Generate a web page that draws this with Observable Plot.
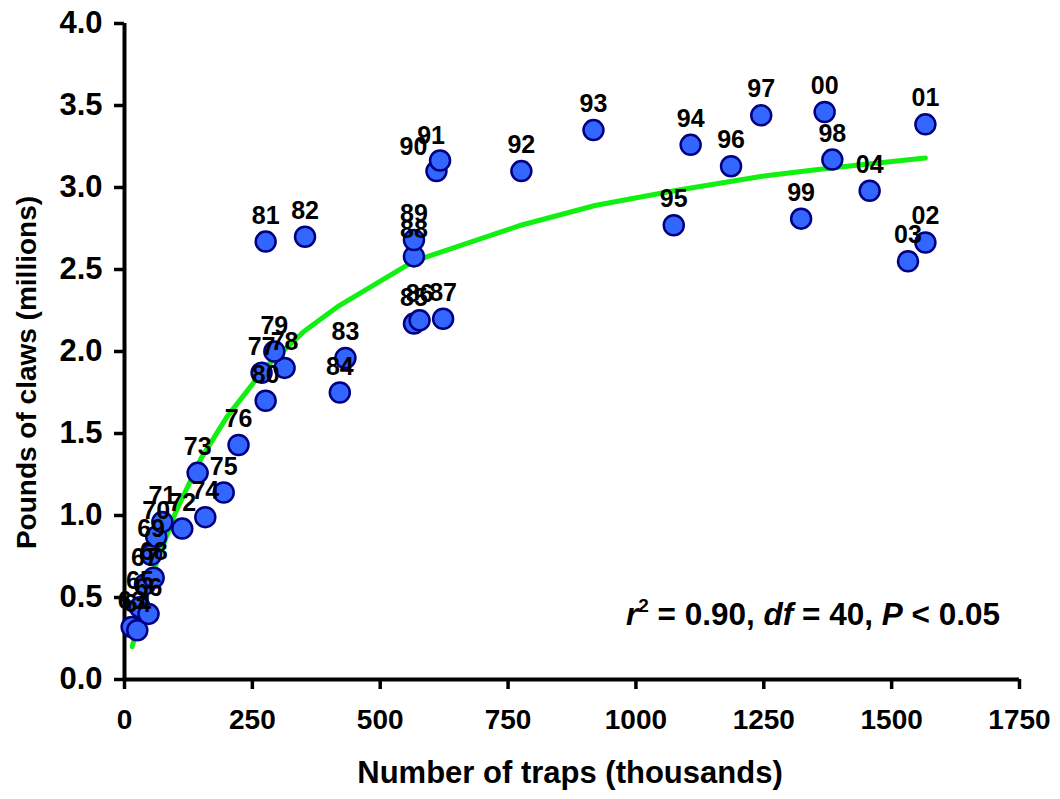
<!DOCTYPE html>
<html>
<head>
<meta charset="utf-8">
<script src="https://cdn.jsdelivr.net/npm/d3@7"></script>
<script src="https://cdn.jsdelivr.net/npm/@observablehq/plot@0.6"></script>
<style>
  html, body { margin: 0; padding: 0; background: #fff; }
  #chart { width: 1060px; height: 799px; }
</style>
</head>
<body>
<div id="chart"></div>
<script>
// Season labels (two-digit years) with traps fished and claw landings
const years = ["63","64","65","66","67","68","69","70","71","72","73","74","75","76","77","78","79","80","81","82","83","84","85","86","87","88","89","90","91","92","93","94","95","96","97","98","99","00","01","02","03","04"];
const traps = [14, 25, 30, 47, 40, 57, 52, 62, 74, 113, 143, 158, 194, 223, 268, 313, 293, 276, 276, 353, 432, 421, 566, 577, 623, 566, 566, 610, 617, 776, 917, 1107, 1074, 1186, 1245, 1384, 1323, 1369, 1566, 1566, 1532, 1457];
const claws = [0.32, 0.30, 0.44, 0.40, 0.58, 0.62, 0.76, 0.87, 0.96, 0.92, 1.26, 0.99, 1.14, 1.43, 1.87, 1.90, 2.00, 1.70, 2.67, 2.70, 1.96, 1.75, 2.17, 2.19, 2.20, 2.58, 2.68, 3.10, 3.165, 3.10, 3.35, 3.26, 2.77, 3.13, 3.44, 3.17, 2.81, 3.46, 3.385, 2.665, 2.55, 2.98];

// Fitted curve, read along its length
const fitTraps = [15, 30, 60, 100, 150, 200, 275, 350, 420, 565, 775, 920, 1075, 1250, 1385, 1566];
const fitClaws = [0.20, 0.38, 0.69, 1.02, 1.35, 1.60, 1.90, 2.12, 2.28, 2.55, 2.77, 2.89, 2.98, 3.07, 3.12, 3.18];

const xTicks = [0, 250, 500, 750, 1000, 1250, 1500, 1750];
const yTicks = [0, 0.5, 1.0, 1.5, 2.0, 2.5, 3.0, 3.5, 4.0];

const xTitle = "Number of traps (thousands)";
const yTitle = "Pounds of claws (millions)";

const points = years.map((year, i) => ({year, traps: traps[i], claws: claws[i]}));
const fit = fitTraps.map((t, i) => ({traps: t, claws: fitClaws[i]}));

const font = "'Liberation Sans', Arial, Helvetica, sans-serif";
// labels that sit left of their point instead of straight above
const labelNudge = {"90": -23, "91": -9};

const W = 1060, H = 799;
const M = {left: 124, right: 41, top: 23, bottom: 120};

const labelMarks = [
  Plot.text(points.filter(d => !(d.year in labelNudge)), {
    x: "traps", y: "claws", text: "year", dy: -26,
    fontSize: 25, fontWeight: "bold", fill: "#000"
  }),
  ...Object.entries(labelNudge).map(([yr, dx]) =>
    Plot.text(points.filter(d => d.year === yr), {
      x: "traps", y: "claws", text: "year", dy: -24, dx,
      fontSize: 25, fontWeight: "bold", fill: "#000"
    }))
];

const chart = Plot.plot({
  width: W, height: H,
  marginLeft: M.left, marginRight: M.right, marginTop: M.top, marginBottom: M.bottom,
  style: {fontFamily: font, fontWeight: "bold", fontSize: "28px", color: "#000", background: "#fff", overflow: "visible"},
  x: {domain: [0, 1750], label: null},
  y: {domain: [0, 4], label: null},
  marks: [
    Plot.axisX({ticks: xTicks, tickSize: 10, tickPadding: 20, tickFormat: d3.format("d"),
      strokeWidth: 3.5, fontSize: 28, fontWeight: "bold", label: null}),
    Plot.axisY({ticks: yTicks, tickSize: 10, tickPadding: 12, tickFormat: d3.format(".1f"),
      strokeWidth: 3.5, fontSize: 31, fontWeight: "bold", label: null}),
    Plot.ruleX([0], {stroke: "#000", strokeWidth: 4}),
    Plot.ruleY([0], {stroke: "#000", strokeWidth: 4}),
    Plot.line(fit, {x: "traps", y: "claws", stroke: "#11f011", strokeWidth: 5}),
    Plot.dot(points, {x: "traps", y: "claws", r: 10, fill: "#3366ff", stroke: "#000080", strokeWidth: 2.5}),
    ...labelMarks,
    Plot.text([yTitle], {frameAnchor: "left", dx: -97, dy: 21, rotate: -90,
      textAnchor: "middle", lineAnchor: "middle", fontSize: 28, fontWeight: "bold"}),
    Plot.text([xTitle], {frameAnchor: "bottom", dx: -2, dy: 94,
      textAnchor: "middle", lineAnchor: "middle", fontSize: 31, fontWeight: "bold"})
  ]
});

// Goodness-of-fit note with italic symbols and a superscript
const note = d3.select(chart).append("text")
  .attr("x", W - M.right - 19)
  .attr("y", H - M.bottom - 54)
  .attr("text-anchor", "end")
  .attr("font-family", font)
  .attr("font-weight", "bold")
  .attr("font-size", 31.5)
  .attr("fill", "#000");
note.append("tspan").attr("font-style", "italic").text("r");
note.append("tspan").attr("font-size", 19).attr("dy", -13).text("2");
note.append("tspan").attr("dy", 13).text(" = 0.90, ");
note.append("tspan").attr("font-style", "italic").text("df");
note.append("tspan").text(" = 40, ");
note.append("tspan").attr("font-style", "italic").text("P");
note.append("tspan").text(" < 0.05");

document.getElementById("chart").append(chart);
</script>
</body>
</html>
